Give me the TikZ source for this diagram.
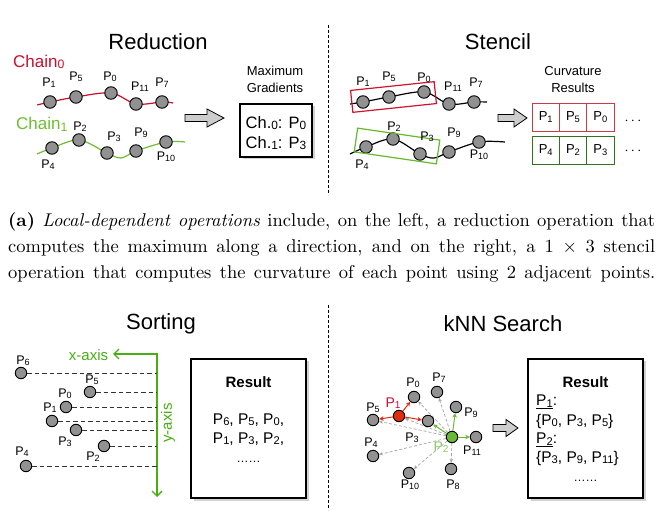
\documentclass[tikz,border=0pt]{standalone}
\usepackage{fontspec}
\setsansfont{Liberation Sans}
\newfontfamily\capfont[Extension=.otf, BoldFont=lmroman10-bold, ItalicFont=lmroman10-italic]{lmroman10-regular}
\usepackage{graphicx}
\usetikzlibrary{arrows.meta,shadows}
\pgfdeclarelayer{back}
\pgfdeclarelayer{bg}
\pgfsetlayers{back,bg,main}
\definecolor{cred}{RGB}{200,16,46}
\definecolor{cgreen}{RGB}{110,190,50}
\definecolor{axgreen}{RGB}{70,175,20}
\definecolor{ptgray}{RGB}{145,145,145}
\definecolor{arrgray}{RGB}{205,205,205}
\definecolor{cellred}{RGB}{200,60,70}
\definecolor{cellgreen}{RGB}{50,115,30}
\definecolor{rectred}{RGB}{205,20,45}
\definecolor{rectgreen}{RGB}{100,185,45}
\definecolor{knnred}{RGB}{225,45,15}
\definecolor{knngreen}{RGB}{105,185,55}
\definecolor{ptwogreen}{RGB}{140,205,100}
\definecolor{dashgray}{RGB}{165,165,165}
\newcommand{\sbs}[1]{\raisebox{-0.2ex}{\scalebox{0.72}{#1}}}
\newcommand{\pname}[1]{P\sbs{#1}}
\newcommand{\blockarr}[5]{%
  \draw[barrow] (#1,#2) ++(0,-3.5) -- ++(#3,0) -- ++(0,{-(#5-3.5)}) -- ++(#4,#5) -- ++(-#4,#5) -- ++(0,{-(#5-3.5)}) -- ++(-#3,0) -- cycle;}
\begin{document}
\begin{tikzpicture}[x=1pt,y=-1pt,
  title/.style={font=\sffamily\fontsize{22}{24}\selectfont, inner sep=0},
  lbl/.style={font=\sffamily\fontsize{12.5}{14}\selectfont, inner sep=0},
  sub/.style={font=\sffamily\fontsize{13}{17}\selectfont, inner sep=0, align=center},
  dot/.style={circle, draw=black, line width=0.9pt, fill=ptgray, minimum size=12.5pt, inner sep=0},
  sdot/.style={dot, minimum size=11.5pt},
  barrow/.style={draw=black, line width=0.8pt, fill=arrgray, line join=miter},
  resbox/.style={draw=black, line width=1.1pt, fill=white, inner sep=0,
     drop shadow={shadow xshift=2.5pt, shadow yshift=-2.5pt, opacity=0.35}},
  sep/.style={draw=black, line width=0.8pt, dash pattern=on 3pt off 2pt},
  hdash/.style={draw=black!80, line width=0.7pt, dash pattern=on 4.5pt off 3pt},
  redarr/.style={draw=knnred, line width=1pt, -{Stealth[length=4.5pt,width=4.5pt]}},
  grnarr/.style={draw=knngreen, line width=1pt, -{Stealth[length=4.5pt,width=4.5pt]}},
  grayarr/.style={draw=dashgray, line width=0.7pt, dash pattern=on 3pt off 2pt, -{Stealth[length=4pt,width=3.5pt]}},
  cell/.style={draw, line width=0.8pt, minimum width=27.3pt, minimum height=28pt, inner sep=0, fill=white, font=\sffamily\fontsize{13}{14}\selectfont},
  captxt/.style={anchor=base west, inner sep=0, font=\capfont\fontsize{18.5}{20}\selectfont}
]
\useasboundingbox (0,0) rectangle (661,518);
\begin{pgfonlayer}{back}
\fill[white] (0,0) rectangle (661,518);
\end{pgfonlayer}

% separators
\coordinate (st) at (328,25); \coordinate (sb) at (328,195);
\draw[sep] (st) -- (sb);
\coordinate (bt) at (328,305); \coordinate (bb) at (328,510);
\draw[sep] (bt) -- (bb);

%================ Reduction =================
\node[title] (tred) at (158,42) {Reduction};
\node[anchor=west, inner sep=0, text=cred, font=\sffamily\fontsize{17}{18}\selectfont] (ch0) at (13,62) {Chain\sbs{0}};
\node[anchor=west, inner sep=0, text=cgreen, font=\sffamily\fontsize{17}{18}\selectfont] (ch1) at (16,124) {Chain\sbs{1}};

\node[dot] (a1) at (50,102) {};
\node[dot] (a5) at (76,97) {};
\node[dot] (a0) at (111,93) {};
\node[dot] (a11) at (136,104) {};
\node[dot] (a7) at (162,102) {};
\coordinate (aS) at (37,105); \coordinate (aE) at (173,103);
\node[dot] (b4) at (52,148) {};
\node[dot] (b2) at (79,140) {};
\node[dot] (b3) at (107,153) {};
\node[dot] (b9) at (136,151) {};
\node[dot] (b10) at (166,142) {};
\coordinate (bS) at (37,154); \coordinate (bM) at (121,158); \coordinate (bE) at (185,142);
\begin{pgfonlayer}{bg}
\draw[cred, line width=1.2pt] plot[smooth, tension=0.55] coordinates {(aS) (a1) (a5) (a0) (a11) (a7) (aE)};
\draw[cgreen, line width=1.2pt] plot[smooth, tension=0.55] coordinates {(bS) (b4) (b2) (b3) (bM) (b9) (b10) (bE)};
\end{pgfonlayer}
\node[lbl] (la1) at (49,83) {\pname{1}};
\node[lbl] (la5) at (76,77) {\pname{5}};
\node[lbl] (la0) at (110,77) {\pname{0}};
\node[lbl] (la11) at (140,87) {\pname{11}};
\node[lbl] (la7) at (162,83) {\pname{7}};
\node[lbl] (lb4) at (48,165) {\pname{4}};
\node[lbl] (lb2) at (80,127) {\pname{2}};
\node[lbl] (lb3) at (114,137) {\pname{3}};
\node[lbl] (lb9) at (141,133) {\pname{9}};
\node[lbl] (lb10) at (166,157) {\pname{10}};

\blockarr{185}{118}{22}{17}{9}
\node[sub] (mg) at (275,79.5) {Maximum\\Gradients};
\node[resbox, minimum width=72pt, minimum height=53pt] (mgbox) at (276,130.5) {};
\node[inner sep=0, font=\sffamily\fontsize{16.5}{18}\selectfont] (mg0) at (276,123) {Ch.\sbs{0}: \pname{0}};
\node[inner sep=0, font=\sffamily\fontsize{16.5}{18}\selectfont] (mg1) at (276,143) {Ch.\sbs{1}: \pname{3}};

%================ Stencil =================
\node[title] (tst) at (498,42) {Stencil};
\node[dot] (c1) at (363,102) {};
\node[dot] (c5) at (389,97) {};
\node[dot] (c0) at (424,92) {};
\node[dot] (c11) at (449,104) {};
\node[dot] (c7) at (474,102) {};
\coordinate (cS) at (350,104); \coordinate (cE) at (487,102);
\node[dot] (d4) at (366,147) {};
\node[dot] (d2) at (393,139) {};
\node[dot] (d3) at (420,154) {};
\node[dot] (d9) at (449,152) {};
\node[dot] (d10) at (479,142) {};
\coordinate (dS) at (350,154); \coordinate (dM) at (434,158); \coordinate (dE) at (505,142);
\begin{pgfonlayer}{bg}
\draw[black, line width=1.2pt] plot[smooth, tension=0.55] coordinates {(cS) (c1) (c5) (c0) (c11) (c7) (cE)};
\draw[black, line width=1.2pt] plot[smooth, tension=0.55] coordinates {(dS) (d4) (d2) (d3) (dM) (d9) (d10) (dE)};
\end{pgfonlayer}
\node[draw=rectred, line width=1.2pt, rotate=6, minimum width=84pt, minimum height=22pt, inner sep=0] (rr) at (393.5,97) {};
\node[draw=rectgreen, line width=1.2pt, rotate=-8.3, minimum width=83pt, minimum height=24pt, inner sep=0] (gr) at (397,146) {};
\node[lbl] (lc1) at (363,82) {\pname{1}};
\node[lbl] (lc5) at (389,77) {\pname{5}};
\node[lbl] (lc0) at (424,78) {\pname{0}};
\node[lbl] (lc11) at (453,87) {\pname{11}};
\node[lbl] (lc7) at (476,83) {\pname{7}};
\node[lbl] (ld4) at (362,165) {\pname{4}};
\node[lbl] (ld2) at (394,127) {\pname{2}};
\node[lbl] (ld3) at (427,137) {\pname{3}};
\node[lbl] (ld9) at (454,133) {\pname{9}};
\node[lbl] (ld10) at (479,155) {\pname{10}};

\blockarr{498}{118}{16}{13}{9}
\node[sub] (cr) at (573,79.5) {Curvature\\Results};
\node[cell, draw=cellred] (r1) at (545.7,117) {\pname{1}};
\node[cell, draw=cellred] (r2) at (573,117) {\pname{5}};
\node[cell, draw=cellred] (r3) at (600.3,117) {\pname{0}};
\node[cell, draw=cellgreen] (g1) at (545.7,150) {\pname{4}};
\node[cell, draw=cellgreen] (g2) at (573,150) {\pname{2}};
\node[cell, draw=cellgreen] (g3) at (600.3,150) {\pname{3}};
\node[inner sep=0, font=\fontsize{15}{15}\selectfont] (dots1) at (633,121) {$\cdots$};
\node[inner sep=0, font=\fontsize{15}{15}\selectfont] (dots2) at (633,151) {$\cdots$};

%================ Caption =================
\node[captxt] (cap1) at (8,227) {\makebox[647pt][s]{\textbf{(a)} \textit{Local-dependent operations} include, on the left, a reduction operation that}};
\node[captxt] (cap2) at (8,253) {\makebox[647pt][s]{computes the maximum along a direction, and on the right, a 1 × 3 stencil}};
\node[captxt] (cap3) at (8,279) {\makebox[647pt][s]{operation that computes the curvature of each point using 2 adjacent points.}};

%================ Sorting =================
\node[title] (tso) at (161,324) {Sorting};
\coordinate (xt) at (113,354);
\coordinate (ax) at (157,354);
\coordinate (yt) at (157,497);
\draw[axgreen, line width=1.3pt, {Straight Barb[length=5pt,width=10pt]}-{Straight Barb[length=5pt,width=10pt]}] (xt) -- (ax) -- (yt);
\node[inner sep=0, text=axgreen, font=\sffamily\fontsize{15}{16}\selectfont] (xl) at (88.5,355) {x-axis};
\node[inner sep=0, text=axgreen, font=\sffamily\fontsize{15}{16}\selectfont, rotate=90] (yl) at (168,423) {y-axis};

\node[sdot] (s6) at (21,373) {};
\node[sdot] (s5) at (90,392) {};
\node[sdot] (s0) at (66,407) {};
\node[sdot] (s1) at (52,421) {};
\node[sdot] (s3) at (76,430) {};
\node[sdot] (s2) at (104,446) {};
\node[sdot] (s4) at (26,466) {};
\foreach \n in {s6,s5,s0,s1,s3,s2,s4}{
  \draw[hdash] (\n.east) -- (\n -| ax);
}
\node[lbl] (ls6) at (23,361) {\pname{6}};
\node[lbl] (ls5) at (92,380) {\pname{5}};
\node[lbl] (ls0) at (65,394) {\pname{0}};
\node[lbl] (ls1) at (50,408) {\pname{1}};
\node[lbl] (ls3) at (65,442) {\pname{3}};
\node[lbl] (ls2) at (93,457) {\pname{2}};
\node[lbl] (ls4) at (22,452) {\pname{4}};

\node[resbox, minimum width=115pt, minimum height=139pt] (sres) at (248.5,428.5) {};
\node[inner sep=0, font=\sffamily\bfseries\fontsize{15}{16}\selectfont] (srt) at (248.5,382) {Result};
\node[inner sep=0, font=\sffamily\fontsize{15.5}{18}\selectfont] (sl1) at (248.5,420) {\pname{6}, \pname{5}, \pname{0},};
\node[inner sep=0, font=\sffamily\fontsize{15.5}{18}\selectfont] (sl2) at (248.5,439) {\pname{1}, \pname{3}, \pname{2},};
\node[inner sep=0, font=\sffamily\fontsize{12}{14}\selectfont] (sl3) at (248.5,462) {……};

%================ kNN =================
\node[title] (tknn) at (503,324) {kNN Search};
\node[sdot] (k0) at (414,397) {};
\node[sdot] (k7) at (437,392) {};
\node[sdot, fill=knnred] (k1) at (399,416) {};
\node[sdot] (k5) at (373,420) {};
\node[sdot] (k3) at (428,421) {};
\node[sdot] (k9) at (456,407) {};
\node[sdot, fill=knngreen] (k2) at (452,437) {};
\node[sdot] (k11) at (476,437) {};
\node[sdot] (k4) at (373,456) {};
\node[sdot] (k10) at (409,473) {};
\node[sdot] (k8) at (451,469) {};
\begin{pgfonlayer}{bg}
\foreach \t in {k0,k7,k5,k1,k4,k10,k8}{
  \draw[grayarr] (k2) -- (\t);
}
\end{pgfonlayer}
\draw[redarr] (k1) -- (k0);
\draw[redarr] (k1) -- (k5);
\draw[redarr] (k1) -- (k3);
\draw[grnarr] (k2) -- (k9);
\draw[grnarr] (k2) -- (k11);
\draw[grnarr] (k2) -- (k3);
\node[lbl] (lk0) at (413,383) {\pname{0}};
\node[lbl] (lk7) at (439,378) {\pname{7}};
\node[lbl, text=cred, font=\sffamily\fontsize{14}{15}\selectfont] (lk1) at (393,403) {\pname{1}};
\node[lbl] (lk5) at (373,408) {\pname{5}};
\node[lbl] (lk3) at (412,438) {\pname{3}};
\node[lbl] (lk9) at (471,413) {\pname{9}};
\node[lbl, text=ptwogreen, font=\sffamily\fontsize{14}{15}\selectfont] (lk2) at (441,447) {\pname{2}};
\node[lbl] (lk11) at (472,451) {\pname{11}};
\node[lbl] (lk4) at (371,443) {\pname{4}};
\node[lbl] (lk10) at (410,485) {\pname{10}};
\node[lbl] (lk8) at (453,485) {\pname{8}};

\blockarr{493}{428}{13}{12}{8.5}
\node[resbox, minimum width=115pt, minimum height=139pt] (kres) at (585.5,428.5) {};
\node[inner sep=0, font=\sffamily\bfseries\fontsize{15}{16}\selectfont] (krt) at (585.5,382) {Result};
\node[anchor=west, inner sep=0, font=\sffamily\fontsize{15.5}{18}\selectfont] (kl1) at (536,402) {\underline{\pname{1}}:};
\node[anchor=west, inner sep=0, font=\sffamily\fontsize{15.5}{18}\selectfont] (kl2) at (536,421) {\{\pname{0}, \pname{3}, \pname{5}\}};
\node[anchor=west, inner sep=0, font=\sffamily\fontsize{15.5}{18}\selectfont] (kl3) at (536,440) {\underline{\pname{2}}:};
\node[anchor=west, inner sep=0, font=\sffamily\fontsize{15.5}{18}\selectfont] (kl4) at (536,458) {\{\pname{3}, \pname{9}, \pname{11}\}};
\node[inner sep=0, font=\sffamily\fontsize{12}{14}\selectfont] (kl5) at (585.5,481) {……};
\end{tikzpicture}
\end{document}
